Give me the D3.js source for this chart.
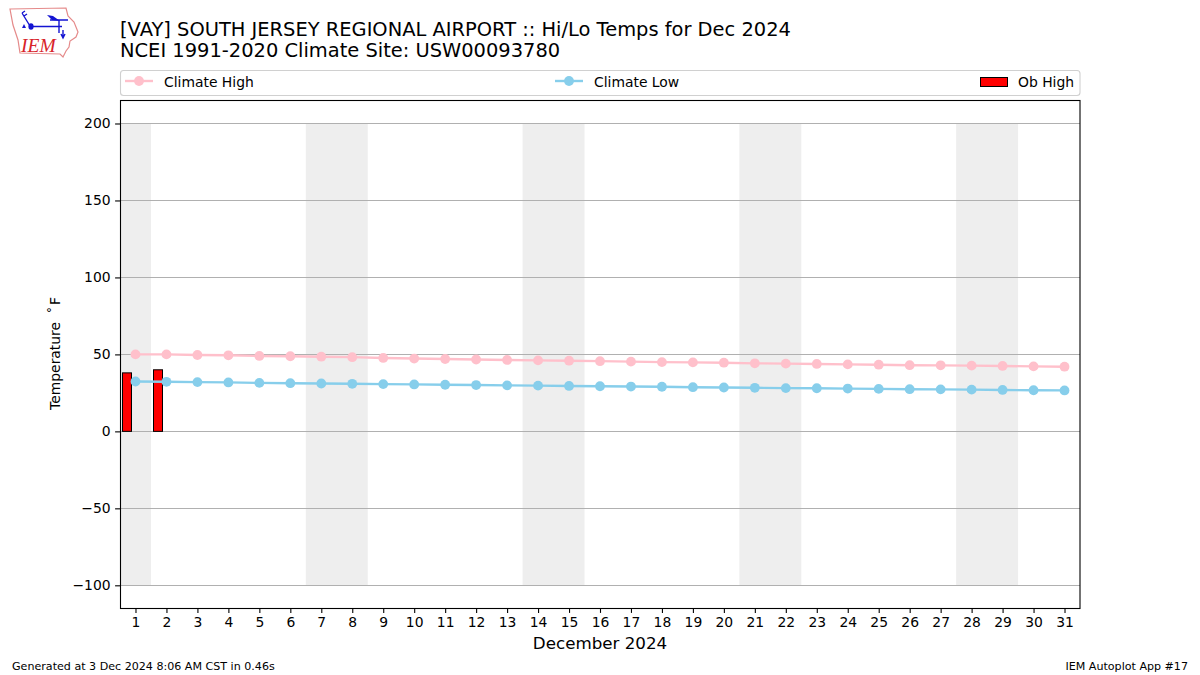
<!DOCTYPE html>
<html><head><meta charset="utf-8"><script src="https://cdnjs.cloudflare.com/ajax/libs/d3/7.8.5/d3.min.js"></script>
<style>html,body{margin:0;background:#fff}svg{display:block}text{font-family:"DejaVu Sans";fill:#000}</style></head><body>
<svg id="c" width="1200" height="675"></svg>
<script>
const days=d3.range(1,32);
const climateHigh=[50,50,49.6,49.4,49,48.8,48.5,48.2,47.7,47.3,47,46.7,46.4,46.1,45.9,45.6,45.3,45,44.8,44.6,44.2,44,43.8,43.5,43.3,43,42.9,42.7,42.5,42.2,42];
const climateLow=[32.4,32.2,32,31.8,31.5,31.3,31.1,30.9,30.7,30.5,30.3,30.1,29.9,29.7,29.5,29.3,29.1,29,28.7,28.5,28.3,28.1,28,27.8,27.6,27.4,27.3,27.1,26.9,26.7,26.6];
const obHigh=[38,40];
const weekends=[[0.5,1.5],[6.5,8.5],[13.5,15.5],[20.5,22.5],[27.5,29.5]];
const yTicks=[-100,-50,0,50,100,150,200];
const titleLines=["[VAY] SOUTH JERSEY REGIONAL AIRPORT :: Hi/Lo Temps for Dec 2024","NCEI 1991-2020 Climate Site: USW00093780"];
const pink="#ffc0cb",blue="#87ceeb";
const svg=d3.select("#c");
const L=120,R=1080,T=100.4,B=608.4;
const x=d3.scaleLinear().domain([0.5,31.5]).range([L,R]);
const y=d3.scaleLinear().domain([-115,215]).range([B,T]);
const minus=v=>String(v).replace("-","\u2212");

svg.append("g").selectAll("rect").data(weekends).join("rect")
 .attr("x",d=>x(d[0])).attr("width",d=>x(d[1])-x(d[0]))
 .attr("y",y(200)).attr("height",y(-100)-y(200)).attr("fill","#eeeeee");
svg.append("g").selectAll("line").data(yTicks).join("line")
 .attr("x1",L).attr("x2",R).attr("y1",d=>Math.floor(y(d))+.5).attr("y2",d=>Math.floor(y(d))+.5)
 .attr("stroke","#b0b0b0").attr("stroke-width",1.1);
svg.append("g").selectAll("rect").data(obHigh).join("rect")
 .attr("x",(d,i)=>Math.round(x(days[i]-0.43))+.5).attr("width",9)
 .attr("y",d=>y(d)).attr("height",d=>y(0)-y(d))
 .attr("fill","#ff0000").attr("stroke","#000").attr("stroke-width",1);
const draw=(vals,col)=>{
 const g=svg.append("g");
 g.append("path").datum(vals).attr("fill","none").attr("stroke",col).attr("stroke-width",2.4)
  .attr("d",d3.line().x((d,i)=>x(days[i])).y(d=>y(d)));
 g.selectAll("circle").data(vals).join("circle")
  .attr("cx",(d,i)=>x(days[i])).attr("cy",d=>y(d)).attr("r",4.9).attr("fill",col);
};
draw(climateHigh,pink);draw(climateLow,blue);
svg.append("rect").attr("x",L+.5).attr("y",100.5).attr("width",R-L-.5).attr("height",508).attr("fill","none").attr("stroke","#000").attr("stroke-width",1.1);
const ax=svg.append("g").attr("transform",`translate(0,608)`).call(d3.axisBottom(x).tickValues(days).tickFormat(d3.format("d")).tickSize(4.9).tickPadding(4.5));
ax.select(".domain").remove();
const ay=svg.append("g").attr("transform",`translate(${L},0)`).call(d3.axisLeft(y).tickValues(yTicks).tickFormat(minus).tickSize(4.9).tickPadding(4.5));
ay.select(".domain").remove();
svg.selectAll(".tick text").attr("font-size",13.9).style("font-family","DejaVu Sans").attr("fill","#000");
svg.selectAll(".tick line").attr("stroke","#000").attr("stroke-width",1.1);
titleLines.forEach((t,i)=>svg.append("text").attr("x",120).attr("y",36+i*21).attr("font-size",19.45).text(t));
svg.append("text").attr("x",600).attr("y",649).attr("text-anchor","middle").attr("font-size",16.7).text("December 2024");
svg.append("text").attr("transform","translate(59.5,353.5) rotate(-90)").attr("text-anchor","middle").attr("font-size",13.9).text("Temperature \u2009\u200A\u02DA\u200AF");
svg.append("text").attr("x",12).attr("y",670).attr("font-size",11.1).text("Generated at 3 Dec 2024 8:06 AM CST in 0.46s");
svg.append("text").attr("x",1188).attr("y",670).attr("text-anchor","end").attr("font-size",11.1).text("IEM Autoplot App #17");
svg.append("rect").attr("x",120.5).attr("y",70.5).attr("width",959.5).attr("height",25).attr("rx",3).attr("fill","#fff").attr("stroke","#d0d0d0").attr("stroke-width",1.1);
const lg=(x0,col,label)=>{
 svg.append("line").attr("x1",x0).attr("x2",x0+28).attr("y1",81).attr("y2",81).attr("stroke",col).attr("stroke-width",2.4);
 svg.append("circle").attr("cx",x0+14).attr("cy",81).attr("r",4.9).attr("fill",col);
 svg.append("text").attr("x",x0+39).attr("y",86.5).attr("font-size",13.9).text(label);
};
lg(125,pink,"Climate High");lg(555,blue,"Climate Low");
svg.append("rect").attr("x",980.5).attr("y",77.5).attr("width",27).attr("height",9).attr("fill","#ff0000").attr("stroke","#000").attr("stroke-width",1);
svg.append("text").attr("x",1018).attr("y",86.5).attr("font-size",13.9).text("Ob High");
const logo=svg.append("g");
logo.append("path").attr("d","M10 9 L66 8 L68 16 L74 22 L78 32 L76 37 L70 41 L69 47 L66 51 L63 57 L60 54 L20 53 L18 40 L13 25 Z").attr("fill","none").attr("stroke","#e58a8a").attr("stroke-width",1.2);
logo.append("path").attr("d","M30 26.5 H62 M59 20 V33 M63 30 V38 M61 34 L63 38 L65 34 M22 13 L30 26 M22 13 L25 11 M24 16 L27 14 M50 20 H68").attr("fill","none").attr("stroke","#1414d2").attr("stroke-width",1.4);
logo.append("ellipse").attr("cx",31).attr("cy",26.5).attr("rx",2.6).attr("ry",3.2).attr("fill","#1414d2");
logo.append("path").attr("d","M47 15 L53 16 L60 21 L52 20 Z").attr("fill","#1414d2");
logo.append("path").attr("d","M24 24 L26 28 L22 28 Z").attr("fill","#1414d2");
logo.append("text").attr("x",21).attr("y",52).attr("font-size",19.5).attr("font-style","italic").style("font-family","Liberation Serif").style("fill","#d8232a").text("IEM");
</script></body></html>
